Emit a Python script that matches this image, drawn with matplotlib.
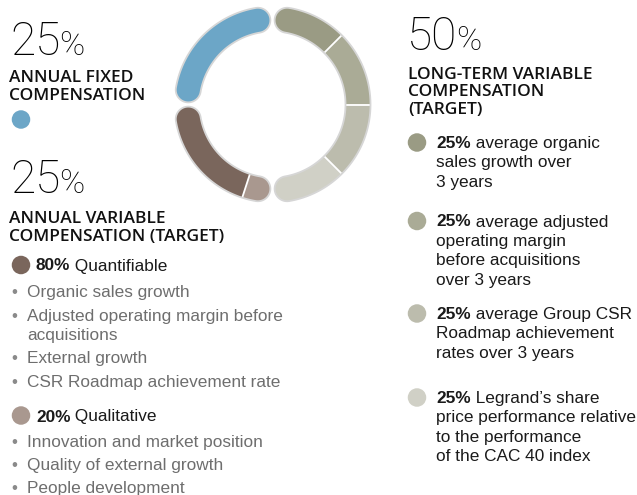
import numpy as np
import matplotlib
matplotlib.use("Agg")
import matplotlib.pyplot as plt
from matplotlib.patches import Polygon

# Pay mix, % of total target compensation
fixed_share = 25
variable_share = 25
longterm_share = 50

# Annual variable compensation split (% of the component)
variable_split = [80, 20]
variable_labels = ["Quantifiable", "Qualitative"]
quantifiable_criteria = [
    ["Organic sales growth"],
    ["Adjusted operating margin before", "acquisitions"],
    ["External growth"],
    ["CSR Roadmap achievement rate"],
]
qualitative_criteria = [
    ["Innovation and market position"],
    ["Quality of external growth"],
    ["People development"],
]

# Long-term variable compensation split (% of the component)
longterm_split = [25, 25, 25, 25]
longterm_labels = [
    ["average organic", "sales growth over", "3 years"],
    ["average adjusted", "operating margin", "before acquisitions", "over 3 years"],
    ["average Group CSR", "Roadmap achievement", "rates over 3 years"],
    ["Legrand\u2019s share", "price performance relative", "to the performance",
     "of the CAC 40 index"],
]

fixed_color = "#6ca6c7"
variable_colors = ["#7a665c", "#a9988f"]
longterm_colors = ["#9a9b84", "#aaab96", "#bcbcad", "#d0d0c6"]

BODY = "Liberation Sans"
HEAD = "Open Sans"
NUM = "Roboto"
PX = 72 / 100  # points per pixel at 100 dpi
BODY_SIZE = 17.2 * PX

fig = plt.figure(figsize=(6.37, 4.95), dpi=100)
ax = fig.add_axes([0, 0, 1, 1])
ax.set_xlim(0, 637)
ax.set_ylim(495, 0)
ax.axis("off")
renderer = fig.canvas.get_renderer()

# ---------------- donut ----------------
cx, cy = 272.5, 104.5
r_out, r_in = 98.0, 73.0
r_mid = (r_out + r_in) / 2
half_w = (r_out - r_in) / 2
half_gap = 2.2


def pt(r, th):
    return cx + r * np.cos(th), cy - r * np.sin(th)


def sector(a1, a2, n=80):
    th = np.linspace(a1, a2, n)
    outer = np.column_stack(pt(r_out, th))
    inner = np.column_stack(pt(r_in, th[::-1]))
    return np.vstack([outer, inner])


def rounded_band(a1, a2):
    c1 = a1 + (half_gap + half_w) / r_mid
    c2 = a2 - (half_gap + half_w) / r_mid
    th = np.linspace(c1, c2, 160)
    phi = np.linspace(0, np.pi, 50)

    def cap(c, sign):
        p = np.array(pt(r_mid, c))
        u = np.array([np.cos(c), -np.sin(c)])
        t = np.array([-np.sin(c), -np.cos(c)])
        return p + half_w * (np.cos(phi)[:, None] * u + sign * np.sin(phi)[:, None] * t)

    outer = np.column_stack(pt(r_out, th))
    inner = np.column_stack(pt(r_in, th[::-1]))
    return np.vstack([outer, cap(c2, 1), inner, cap(c1, -1)[::-1]])


# groups drawn counter-clockwise from 12 o'clock
groups = [
    ([fixed_share], [fixed_color]),
    ([variable_share * s / 100 for s in variable_split], variable_colors),
    ([longterm_share * s / 100 for s in longterm_split][::-1], longterm_colors[::-1]),
]
total = fixed_share + variable_share + longterm_share
angle = np.pi / 2
for values, colors in groups:
    g_start = angle
    g_end = angle + 2 * np.pi * sum(values) / total
    band = Polygon(rounded_band(g_start, g_end), closed=True, facecolor="none",
                   edgecolor="#d6d6d6", lw=1.3, zorder=4)
    ax.add_patch(band)
    a = g_start
    for i, (v, c) in enumerate(zip(values, colors)):
        b = a + 2 * np.pi * v / total
        wedge = Polygon(sector(a, b), closed=True, facecolor=c, edgecolor="none", zorder=2)
        ax.add_patch(wedge)
        wedge.set_clip_path(band)
        if i > 0:
            x0, y0 = pt(r_in - 2, a)
            x1, y1 = pt(r_out + 2, a)
            ln, = ax.plot([x0, x1], [y0, y1], color="white", lw=1.3, zorder=3)
            ln.set_clip_path(band)
        a = b
    angle = g_end


# ---------------- text helpers ----------------
def text_width(t):
    """Width of a text artist in data units (pixels here)."""
    bb = t.get_window_extent(renderer=renderer)
    inv = ax.transData.inverted()
    (x0, _), (x1, _) = inv.transform([[bb.x0, bb.y0], [bb.x1, bb.y0]])
    return x1 - x0


def big_pct(x, y, value):
    t = ax.text(x, y, f"{value}", fontfamily=NUM, fontweight="light",
                fontsize=46 * PX, color="#000000", va="baseline", ha="left")
    ax.text(x + text_width(t) - 1, y, "%", fontfamily=NUM, fontweight="light",
            fontsize=34 * PX, color="#000000", va="baseline", ha="left")


def heading(x, y, lines, step=17.8):
    for i, s in enumerate(lines):
        ax.text(x, y + i * step, s, fontfamily=HEAD, fontweight="semibold",
                fontsize=17.4 * PX, color="#111111", va="baseline", ha="left")


def dot(x, y, color):
    ax.scatter([x], [y], s=(18.5 * PX) ** 2, color=color, edgecolors="none", zorder=5)


def lead(x, y, bold, rest, color="#1a1a1a"):
    t = ax.text(x, y, bold, fontfamily=BODY, fontweight="bold", fontsize=BODY_SIZE,
                color=color, va="baseline", ha="left")
    ax.text(x + text_width(t), y, " " + rest, fontfamily=BODY, fontsize=BODY_SIZE,
            color=color, va="baseline", ha="left")


def plain(x, y, s, color="#1a1a1a"):
    ax.text(x, y, s, fontfamily=BODY, fontsize=BODY_SIZE, color=color,
            va="baseline", ha="left")


def bullets(y, items, gap_item=23.5, gap_line=19.5):
    for lines in items:
        ax.text(11, y, "\u2022", fontfamily=BODY, fontsize=BODY_SIZE, color="#8a8a8a",
                va="baseline", ha="left")
        for j, s in enumerate(lines):
            plain(27, y + j * gap_line, s, color="#6e6e6e")
        y += (len(lines) - 1) * gap_line + gap_item


# ---------------- left column ----------------
big_pct(10, 55, fixed_share)
heading(9, 82, ["ANNUAL FIXED", "COMPENSATION"])
dot(21, 119.5, fixed_color)

big_pct(10, 193, variable_share)
heading(9, 223, ["ANNUAL VARIABLE", "COMPENSATION (TARGET)"])

dot(21, 265, variable_colors[0])
lead(36, 270.5, f"{variable_split[0]}%", variable_labels[0])
bullets(297, quantifiable_criteria)

dot(21, 415.5, variable_colors[1])
lead(36, 421.5, f"{variable_split[1]}%", variable_labels[1])
bullets(446.5, qualitative_criteria)

# ---------------- right column ----------------
big_pct(407, 50, longterm_share)
heading(408, 79, ["LONG-TERM VARIABLE", "COMPENSATION", "(TARGET)"], step=17.5)

item_tops = [148, 226.5, 319, 403]
for top, share, lines, col in zip(item_tops, longterm_split, longterm_labels, longterm_colors):
    dot(417, top - 5.5, col)
    lead(436, top, f"{share}%", lines[0])
    for j, s in enumerate(lines[1:], start=1):
        plain(436, top + j * 19.4, s)

fig.savefig("out.png", dpi=100)
